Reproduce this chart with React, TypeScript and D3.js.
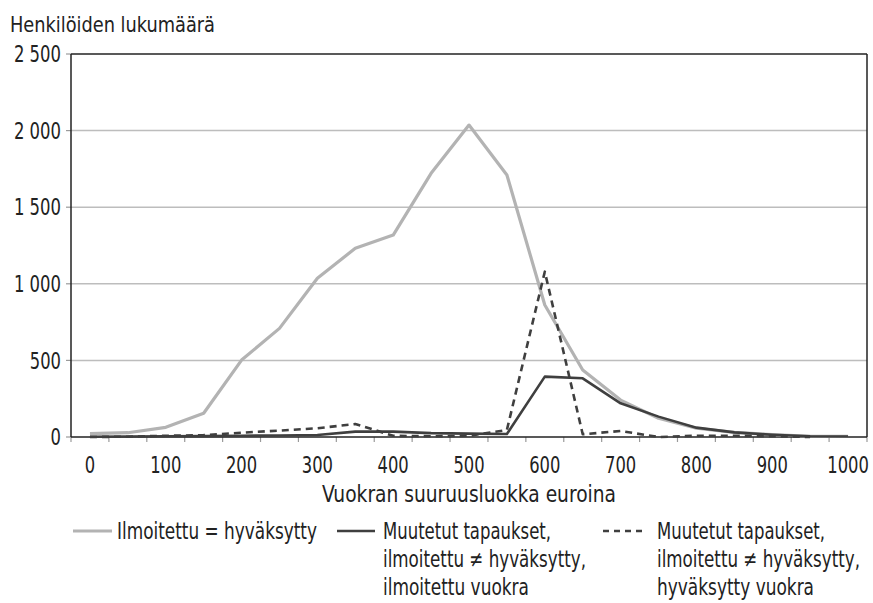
import React from "react";
import * as d3 from "d3";

const categories = [0, 50, 100, 150, 200, 250, 300, 350, 400, 450, 500, 550, 600, 650, 700, 750, 800, 850, 900, 950, 1000];
const reported = [22, 28, 63, 155, 502, 709, 1036, 1232, 1318, 1721, 2036, 1710, 862, 437, 241, 122, 57, 30, 15, 5, 4];
const changedReported = [2, 3, 5, 6, 8, 10, 13, 35, 35, 25, 22, 20, 394, 383, 220, 133, 61, 30, 15, 5, 3];
const changedApproved = [0, 2, 8, 12, 28, 42, 57, 85, 8, 5, 8, 46, 1079, 18, 39, 0, 8, 8, 5, 0, null];
const yTicks = [0, 500, 1000, 1500, 2000, 2500];
const xLabels = [0, 100, 200, 300, 400, 500, 600, 700, 800, 900, 1000];

const FONT = "'Liberation Sans Narrow', 'DejaVu Sans Condensed', 'Roboto Condensed', sans-serif";
const GRAY = "#b3b3b3";
const DARK = "#3f3f3f";

export default function App() {
  const left = 71, right = 867, top = 54, bottom = 437;
  const x = d3.scaleBand<number>().domain(categories).range([left, right]);
  const cx = (c: number) => (x(c) as number) + x.bandwidth() / 2;
  const y = d3.scaleLinear().domain([0, 2500]).range([bottom, top]);
  const fmt = (v: number) => d3.format(",")(v).replace(/,/g, " ");
  const digitW = 10.4;
  const spaceW = 5.5;
  const numW = (s: string) => s.split("").reduce((a, ch) => a + (ch === " " ? spaceW : digitW), 0);

  const mkLine = (vals: (number | null)[]) =>
    d3.line<number>()
      .defined((_, i) => vals[i] !== null)
      .x((_, i) => cx(categories[i]))
      .y((_, i) => y(vals[i] as number))(categories) as string;

  const T = (props: any) => <text lengthAdjust="spacingAndGlyphs" {...props} />;
  const r1 = 539, r2 = 567, r3 = 595, ly = 531;
  return (
    <svg width={873} height={603} style={{ position: "absolute", left: 0, top: 0, background: "#fff" }} fontFamily={FONT}>
      <rect x={0} y={0} width={873} height={603} fill="#fff" />
      <T x={10} y={32} fontSize={22} fill="#222" textLength={205}>Henkilöiden lukumäärä</T>
      {yTicks.map((t) => {
        const s = fmt(t);
        const w = numW(s);
        return (
          <g key={t}>
            {t > 0 && t < 2500 && <line x1={left} x2={right} y1={y(t)} y2={y(t)} stroke="#bdbdbd" strokeWidth={1.5} />}
            <line x1={left - 5} x2={left} y1={y(t)} y2={y(t)} stroke="#9a9a9a" strokeWidth={1.2} />
            <T x={61 - w} y={y(t)} dy="0.36em" fontSize={23} fill="#222" textLength={w}>{s}</T>
          </g>
        );
      })}
      {d3.range(categories.length + 1).map((i) => {
        const xx = left + i * x.step();
        return <line key={i} x1={xx} x2={xx} y1={bottom} y2={bottom + 5} stroke="#9a9a9a" strokeWidth={1.2} />;
      })}
      {xLabels.map((v) => {
        const s = String(v);
        const w = numW(s);
        return <T key={v} x={cx(v) - w / 2} y={473} fontSize={23} fill="#222" textLength={w}>{s}</T>;
      })}
      <T x={322} y={502} fontSize={23} fill="#222" textLength={294}>Vuokran suuruusluokka euroina</T>
      <line x1={left} x2={right} y1={top} y2={top} stroke="#222" strokeWidth={1.5} />
      <line x1={right} x2={right} y1={top} y2={bottom} stroke="#222" strokeWidth={1.5} />
      <line x1={left} x2={left} y1={top} y2={bottom} stroke="#222" strokeWidth={1.5} />
      <line x1={left} x2={right} y1={bottom} y2={bottom} stroke="#222" strokeWidth={1.5} />
      <path d={mkLine(reported)} fill="none" stroke={GRAY} strokeWidth={3.2} strokeLinejoin="round" />
      <path d={mkLine(changedReported)} fill="none" stroke={DARK} strokeWidth={2.6} strokeLinejoin="round" />
      <path d={mkLine(changedApproved)} fill="none" stroke={DARK} strokeWidth={2.6} strokeDasharray="7,5" strokeLinejoin="round" />
      <g fontSize={23} fill="#222">
        <line x1={73} x2={112} y1={ly} y2={ly} stroke={GRAY} strokeWidth={3.2} />
        <T x={117} y={r1} textLength={200}>Ilmoitettu = hyväksytty</T>
        <line x1={337} x2={375} y1={ly} y2={ly} stroke={DARK} strokeWidth={2.6} />
        <T x={383} y={r1} textLength={168}>Muutetut tapaukset,</T>
        <T x={383} y={r2} textLength={203}>ilmoitettu ≠ hyväksytty,</T>
        <T x={383} y={r3} textLength={146}>ilmoitettu vuokra</T>
        <line x1={603} x2={643} y1={ly} y2={ly} stroke={DARK} strokeWidth={2.6} strokeDasharray="6,5" />
        <T x={657} y={r1} textLength={168}>Muutetut tapaukset,</T>
        <T x={657} y={r2} textLength={203}>ilmoitettu ≠ hyväksytty,</T>
        <T x={657} y={r3} textLength={157}>hyväksytty vuokra</T>
      </g>
    </svg>
  );
}
